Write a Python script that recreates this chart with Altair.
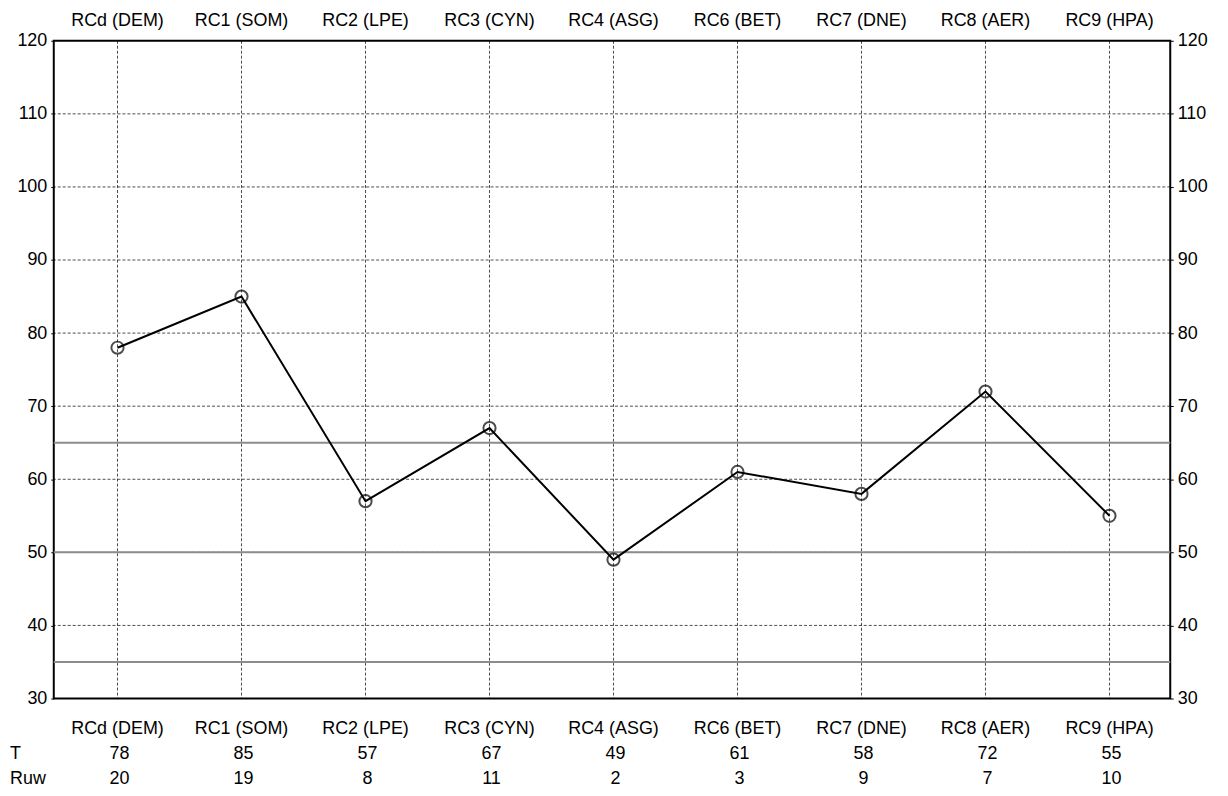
import pandas as pd
import altair as alt

labels = ["RCd (DEM)", "RC1 (SOM)", "RC2 (LPE)", "RC3 (CYN)", "RC4 (ASG)",
          "RC6 (BET)", "RC7 (DNE)", "RC8 (AER)", "RC9 (HPA)"]
t_scores = [78, 85, 57, 67, 49, 61, 58, 72, 55]
raw_scores = [20, 19, 8, 11, 2, 3, 9, 7, 10]
ref_lines = [35, 50, 65]

W, H = 1122, 661
FONT = "Liberation Sans"
FS = 18

df = pd.DataFrame({"i": range(len(labels)), "label": labels, "T": t_scores, "Ruw": raw_scores})

xs = alt.Scale(domain=[-0.514, 8.49], nice=False, zero=False)
ys = alt.Scale(domain=[30, 120], nice=False, zero=False)
yticks = list(range(30, 121, 10))

base = alt.Chart(df)
X = alt.X("i:Q", scale=xs, axis=None)

grid = base.mark_rule(strokeDash=[3, 2], color="black", strokeWidth=0.7).encode(
    x=X, y=alt.value(0), y2=alt.value(H),
)

def yaxis(orient):
    return alt.Axis(values=yticks, title=None, grid=False, orient=orient,
                    labelFontSize=FS, labelFont=FONT, labelColor="black",
                    domain=False, tickColor="black", tickSize=3, labelPadding=4)

hdf = pd.DataFrame({"v": yticks[1:-1]})
hgrid = alt.Chart(hdf).mark_rule(strokeDash=[3, 2], color="black", strokeWidth=0.7).encode(
    y=alt.Y("v:Q", scale=ys, axis=yaxis("left")),
)
hgrid_r = alt.Chart(hdf).mark_rule(opacity=0).encode(
    y=alt.Y("v:Q", scale=ys, axis=yaxis("right")),
)
refs = alt.Chart(pd.DataFrame({"v": ref_lines})).mark_rule(color="#8c8c8c", strokeWidth=2).encode(
    y=alt.Y("v:Q", scale=ys, axis=None),
)
line = base.mark_line(color="black", strokeWidth=2).encode(
    x=X, y=alt.Y("T:Q", scale=ys, axis=None),
)
pts = base.mark_point(shape="circle", size=150, color="black", strokeWidth=2, filled=False).encode(
    x=X, y=alt.Y("T:Q", scale=ys, axis=None),
)

def text_row(field, ypix, dx=0):
    return base.mark_text(fontSize=FS, font=FONT, color="black", baseline="middle", dx=dx).encode(
        x=X, y=alt.value(ypix), text=f"{field}:N")

top = text_row("label", -20)
bottom = text_row("label", H + 31)
trow = text_row("T", H + 56, 2)
rrow = text_row("Ruw", H + 81, 2)
row_names = alt.Chart(pd.DataFrame({"n": ["T", "Ruw"], "yy": [H + 56, H + 81]})).mark_text(
    fontSize=FS, font=FONT, color="black", baseline="middle", align="left"
).encode(x=alt.value(-44), y=alt.Y("yy:Q", scale=None), text="n:N")

chart = alt.layer(
    grid, hgrid, hgrid_r, refs, line, pts, top, bottom, trow, rrow, row_names
).resolve_axis(y="independent").properties(
    width=W, height=H, autosize=alt.AutoSizeParams(type="none"),
    padding={"left": 46, "top": 31, "right": 50, "bottom": 90},
    background="white",
).configure_view(stroke="black", strokeWidth=2)

chart.save("out.html", embed_options={"renderer": "svg", "actions": False})
